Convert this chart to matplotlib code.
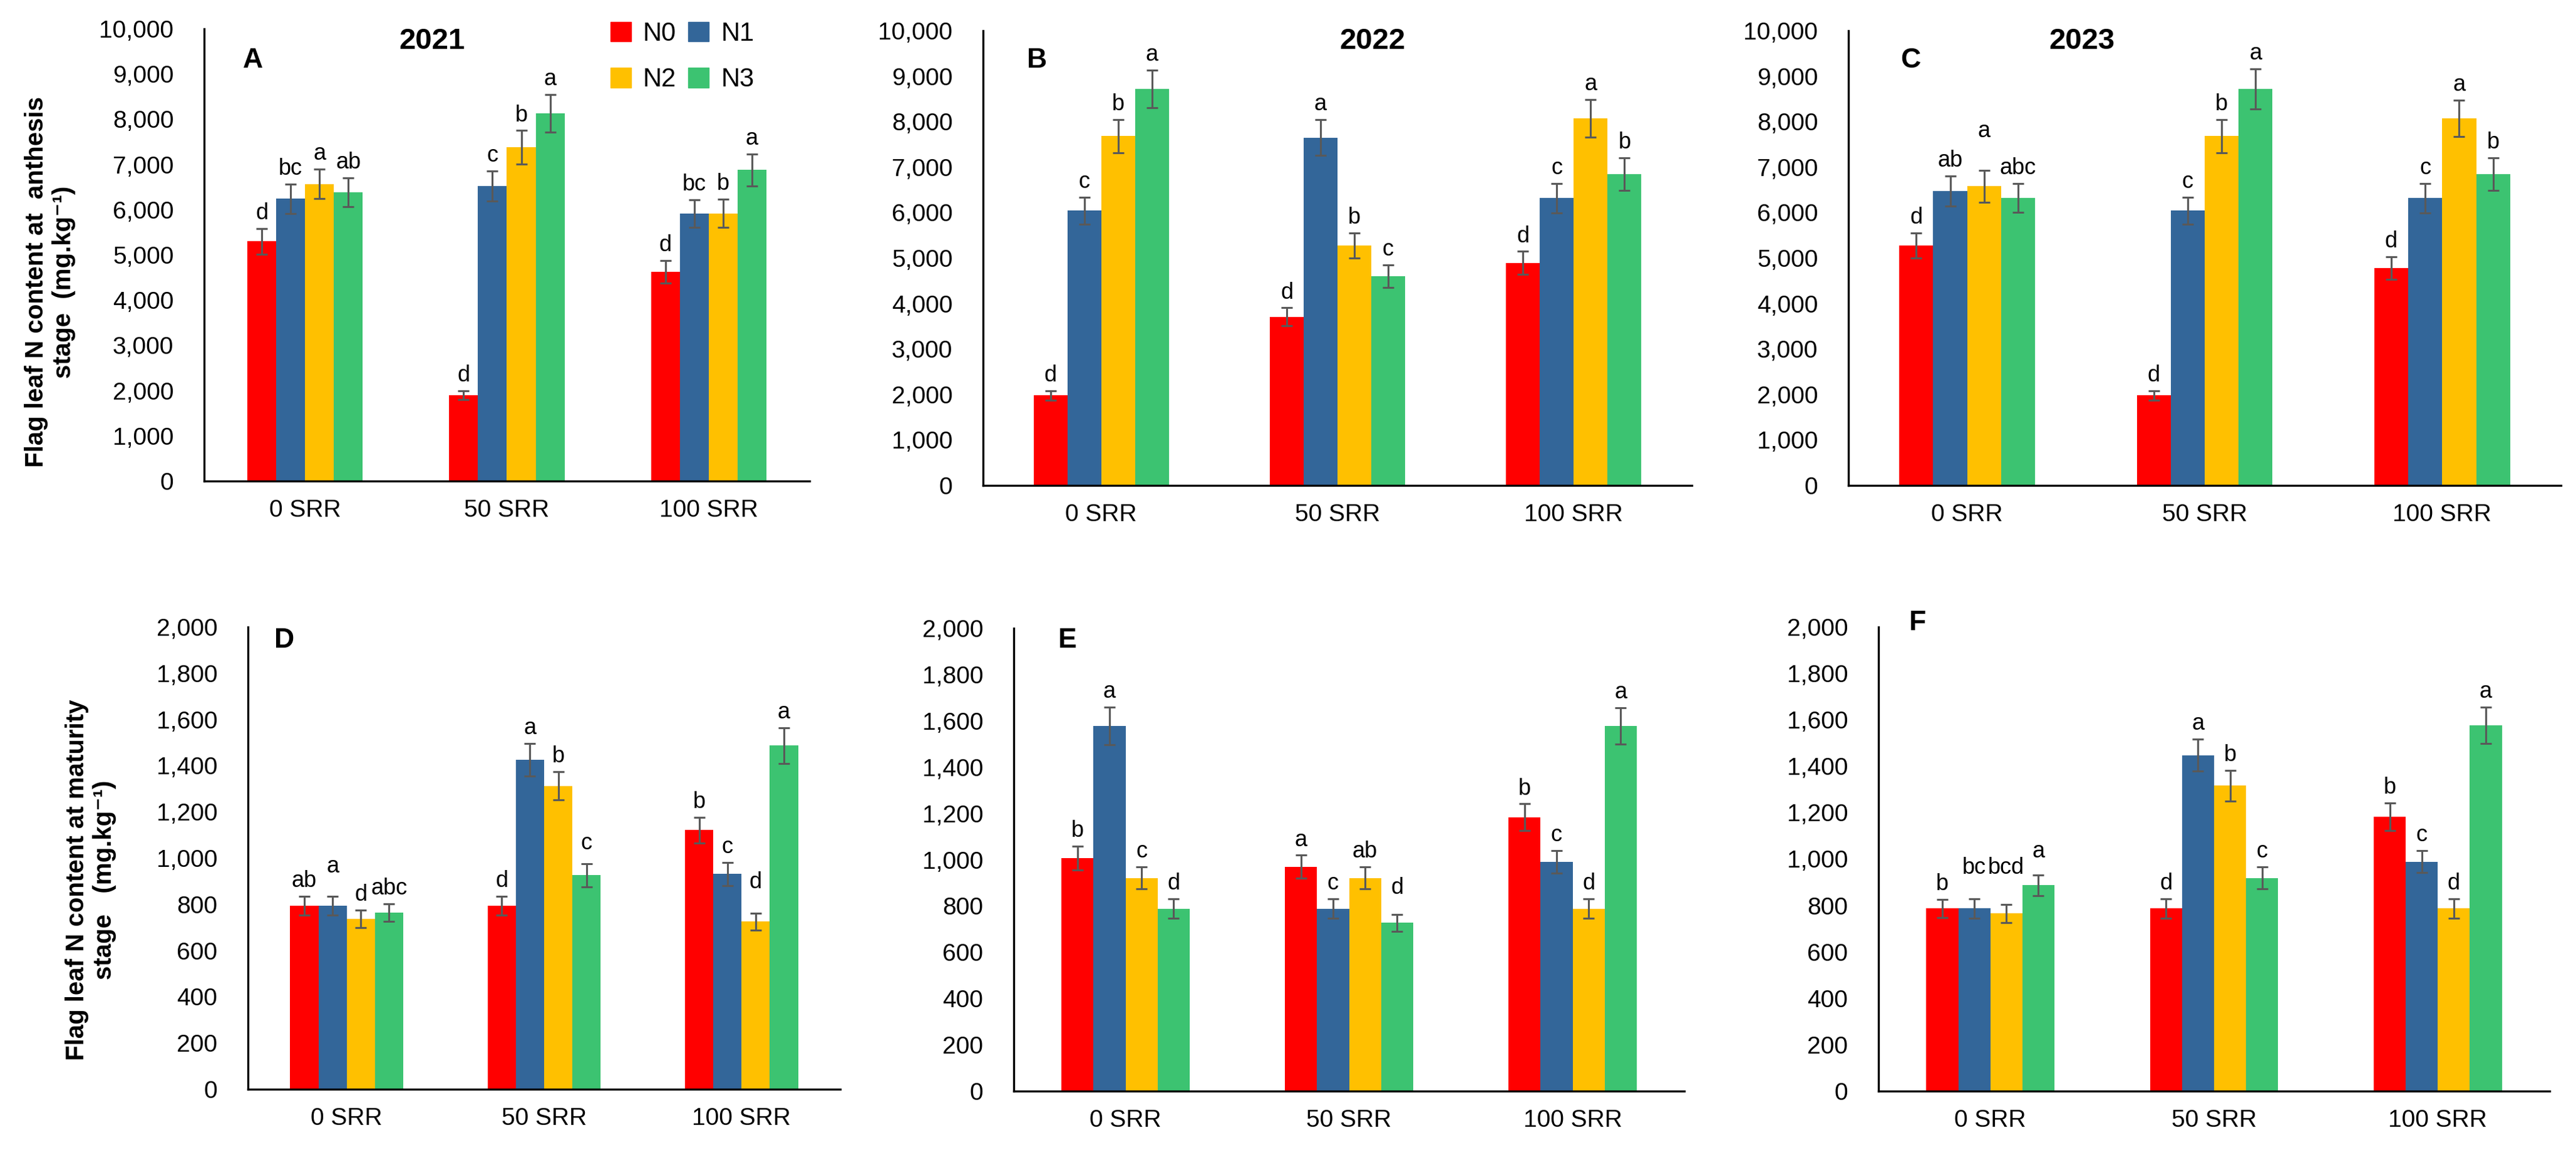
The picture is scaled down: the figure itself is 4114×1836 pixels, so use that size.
import matplotlib
matplotlib.use("Agg")
import matplotlib.pyplot as plt
from matplotlib.patches import Patch
from matplotlib.ticker import FuncFormatter
import numpy as np

plt.rcParams['font.family'] = ['Liberation Sans', 'DejaVu Sans']

categories = ['0 SRR', '50 SRR', '100 SRR']
series = ['N0', 'N1', 'N2', 'N3']
colors = ['#FF0000', '#336699', '#FFC000', '#3CC371']

# values[series][category]
A_vals = [[5300, 1900, 4620], [6240, 6520, 5920], [6570, 7380, 5920], [6380, 8130, 6880]]
A_err = [[280, 95, 250], [320, 330, 305], [325, 370, 310], [320, 420, 350]]
A_let = [['d', 'd', 'd'], ['bc', 'c', 'bc'], ['a', 'b', 'b'], ['ab', 'a', 'a']]

B_vals = [[1980, 3710, 4890], [6040, 7650, 6320], [7680, 5280, 8070], [8720, 4600, 6850]]
B_err = [[105, 195, 255], [300, 390, 325], [370, 275, 410], [410, 245, 360]]
B_let = [['d', 'd', 'd'], ['c', 'a', 'c'], ['b', 'b', 'a'], ['a', 'c', 'b']]

C_vals = [[5280, 1980, 4780], [6480, 6040, 6320], [6580, 7680, 8070], [6320, 8720, 6850]]
C_err = [[275, 105, 245], [330, 300, 325], [350, 370, 395], [315, 440, 360]]
C_let = [['d', 'd', 'd'], ['ab', 'c', 'c'], ['a', 'b', 'a'], ['abc', 'a', 'b']]

D_vals = [[794, 794, 1121], [794, 1425, 931], [737, 1313, 725], [764, 926, 1487]]
D_err = [[40, 40, 55], [40, 71, 50], [37, 61, 37], [37, 50, 77]]
D_let = [['ab', 'd', 'b'], ['a', 'a', 'c'], ['d', 'b', 'd'], ['abc', 'c', 'a']]

E_vals = [[1006, 969, 1184], [1578, 788, 990], [921, 921, 788], [788, 727, 1578]]
E_err = [[52, 50, 57], [82, 42, 49], [47, 47, 42], [42, 37, 78]]
E_let = [['b', 'a', 'b'], ['a', 'c', 'c'], ['c', 'ab', 'd'], ['d', 'd', 'a']]

F_vals = [[787, 787, 1182], [787, 1448, 989], [766, 1316, 787], [887, 919, 1576]]
F_err = [[39, 41, 59], [41, 70, 48], [39, 67, 41], [45, 48, 78]]
F_let = [['b', 'd', 'b'], ['bc', 'a', 'c'], ['bcd', 'b', 'd'], ['a', 'c', 'a']]

years = ['2021', '2022', '2023']
ylabel_top = 'Flag leaf N content at  anthesis\nstage  (mg.kg\u207b\u00b9)'
ylabel_bot = 'Flag leaf N content at maturity\nstage   (mg.kg\u207b\u00b9)'

W, H = 4114, 1836
fig = plt.figure(figsize=(W / 100, H / 100), dpi=100)


def rect(x0, x1, ytop, ybot):
    return [x0 / W, 1 - ybot / H, (x1 - x0) / W, (ybot - ytop) / H]


def px(x, y):
    return (x / W, 1 - y / H)


# label extra lift in points: (panel, series, category)
lift = {('C', 2, 0): 27, ('D', 1, 0): 17, ('D', 2, 2): 18, ('D', 3, 1): 6,
        ('F', 1, 0): 18, ('F', 2, 0): 24, ('F', 3, 0): 9, ('E', 3, 1): 13}

panels = [
    ('A', A_vals, A_err, A_let, rect(326, 1293, 46, 768), 10000, 1000),
    ('B', B_vals, B_err, B_let, rect(1570, 2702, 49, 775), 10000, 1000),
    ('C', C_vals, C_err, C_let, rect(2952, 4090, 49, 775), 10000, 1000),
    ('D', D_vals, D_err, D_let, rect(396, 1342, 1001, 1739), 2000, 200),
    ('E', E_vals, E_err, E_let, rect(1619, 2690, 1003, 1742), 2000, 200),
    ('F', F_vals, F_err, F_let, rect(3000, 4072, 1001, 1742), 2000, 200),
]

bw = 0.143
x = np.arange(len(categories))
for name, vals, errs, lets, r, ymax, step in panels:
    ax = fig.add_axes(r)
    for i in range(4):
        xi = x + (i - 1.5) * bw
        ax.bar(xi, vals[i], width=bw, color=colors[i], edgecolor='none', zorder=2)
        ax.errorbar(xi, vals[i], yerr=errs[i], fmt='none', ecolor='#595959',
                    elinewidth=2.2, capsize=6.5, capthick=2.2, zorder=3)
        for j in range(3):
            extra = lift.get((name, i, j), 0)
            ax.annotate(lets[i][j], (xi[j], vals[i][j] + errs[i][j]),
                        xytext=(0, 5 + extra), textcoords='offset points',
                        ha='center', va='bottom', fontsize=26, annotation_clip=False)
    ax.set_xlim(-0.5, 2.5)
    ax.set_ylim(0, ymax)
    ax.set_yticks(np.arange(0, ymax + 1, step))
    ax.yaxis.set_major_formatter(FuncFormatter(lambda v, p: f'{int(v):,}'))
    ax.set_xticks(x)
    ax.set_xticklabels(categories)
    ax.tick_params(axis='y', length=0, pad=35, labelsize=28)
    ax.tick_params(axis='x', length=0, pad=21, labelsize=28)
    for s in ['top', 'right']:
        ax.spines[s].set_visible(False)
    for s in ['left', 'bottom']:
        ax.spines[s].set_linewidth(2.4)
        ax.spines[s].set_color('black')
    ax.set_facecolor('none')

# titles
for yr, cx in zip(years, [690, 2192, 3325]):
    fig.text(*px(cx, 66), yr, ha='center', va='center', fontsize=34, fontweight='bold')

# panel letters
for lab, (cx, cy) in zip('ABCDEF', [(404, 96), (1656, 96), (3051, 96), (454, 1022), (1705, 1023), (3063, 994)]):
    fig.text(*px(cx, cy), lab, ha='center', va='center', fontsize=32, fontweight='bold')

# y labels
fig.text(*px(80, 450), ylabel_top, rotation=90, ha='center', va='center',
         multialignment='center', fontsize=29, fontweight='bold')
fig.text(*px(145, 1405), ylabel_bot, rotation=90, ha='center', va='center',
         multialignment='center', fontsize=29, fontweight='bold')

# legend
handles = [Patch(color=c) for c in colors]
order = [0, 2, 1, 3]
fig.legend([handles[k] for k in order], [series[k] for k in order], ncol=2,
           loc='upper left', bbox_to_anchor=px(975, 34), bbox_transform=fig.transFigure,
           frameon=False, fontsize=30, handlelength=0.8, handleheight=0.8,
           handletextpad=0.45, columnspacing=0.45, labelspacing=0.8, borderpad=0,
           borderaxespad=0)

fig.savefig('out.png', dpi=100)
